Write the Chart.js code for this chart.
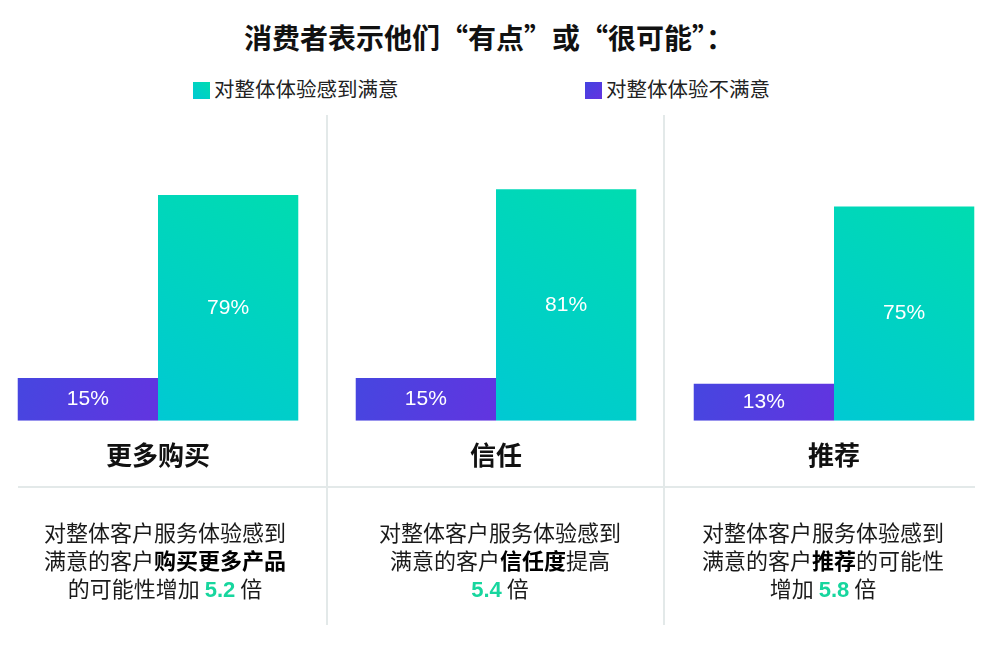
<!DOCTYPE html>
<html><head><meta charset="utf-8">
<script src="https://cdn.jsdelivr.net/npm/chart.js@4.4.0/dist/chart.umd.min.js"></script>
<style>
html,body{margin:0;padding:0;background:#fff;}
body{width:1000px;height:660px;position:relative;overflow:hidden;font-family:"Noto Sans CJK SC","Noto Sans",sans-serif;color:#1a1a1a;}
#title{position:absolute;left:0;width:978px;top:16px;text-align:center;font-size:28px;font-weight:bold;color:#111;line-height:42px;}
.leg{position:absolute;top:76px;font-size:20.5px;line-height:24px;color:#222;white-space:nowrap;}
.leg i{display:inline-block;width:17px;height:17px;vertical-align:-2px;margin-right:4px;}
.vline{position:absolute;width:2px;top:115px;height:510px;background:#e3e9e9;}
.hline{position:absolute;left:18px;width:957px;top:486px;height:2px;background:#e3e9e9;}
.desc{position:absolute;top:517px;width:320px;text-align:center;font-size:22px;line-height:28px;color:#1a1a1a;}
.desc b{font-weight:bold;color:#000;}
.desc .n{font-family:"Liberation Sans",Arial,sans-serif;font-weight:bold;color:#17d69e;}
#wrap{position:absolute;left:-11px;top:0;width:1014px;height:660px;}
</style></head>
<body>
<div id="title">消费者表示他们“有点”或“很可能”：</div>
<div class="leg" style="left:193px"><i style="background:linear-gradient(45deg,#00c9d4,#00dcb0)"></i>对整体体验感到满意</div>
<div class="leg" style="left:585px"><i style="background:linear-gradient(135deg,#4343e0,#6433e0)"></i>对整体体验不满意</div>
<div class="vline" style="left:326px"></div>
<div class="vline" style="left:663px"></div>
<div class="hline"></div>
<div id="wrap"><canvas id="c"></canvas></div>
<div class="desc" style="left:5px">对整体客户服务体验感到<br>满意的客户<b>购买更多产品</b><br>的可能性增加 <span class="n">5.2</span> 倍</div>
<div class="desc" style="left:340px">对整体客户服务体验感到<br>满意的客户<b>信任度</b>提高<br><span class="n">5.4</span> 倍</div>
<div class="desc" style="left:663px">对整体客户服务体验感到<br>满意的客户<b>推荐</b>的可能性<br>增加 <span class="n">5.8</span> 倍</div>
<script>
const categories = ["更多购买", "信任", "推荐"];
const seriesNames = ["对整体体验不满意", "对整体体验感到满意"];
const dissatisfied = [15, 15, 13];
const satisfied = [79, 81, 75];

function grad(ctx, stops, diagDown) {
  const chart = ctx.chart;
  const xs = chart.scales.x, ys = chart.scales.y;
  if (!xs || !ys || ctx.dataIndex === undefined) return stops[0];
  const half = (xs.width / categories.length) * 0.83 / 2;
  const cx = xs.getPixelForValue(ctx.dataIndex);
  const x0 = ctx.datasetIndex === 0 ? cx - half : cx;
  const x1 = x0 + half;
  const top = ys.getPixelForValue(ctx.raw), base = ys.getPixelForValue(0);
  if (![half, cx, x0, x1, top, base].every(Number.isFinite)) return stops[0];
  const g = diagDown
    ? chart.ctx.createLinearGradient(x0, top, x1, base)
    : chart.ctx.createLinearGradient(x0, base, x1, top);
  g.addColorStop(0, stops[0]);
  g.addColorStop(1, stops[1]);
  return g;
}

const valueLabels = {
  id: 'valueLabels',
  afterDatasetsDraw(chart) {
    const c = chart.ctx;
    c.save();
    c.fillStyle = '#ffffff';
    c.font = '21px "Liberation Sans", Arial, sans-serif';
    c.textAlign = 'center';
    c.textBaseline = 'middle';
    chart.data.datasets.forEach((ds, di) => {
      chart.getDatasetMeta(di).data.forEach((el, i) => {
        c.fillText(ds.data[i] + '%', el.x, (el.y + el.base) / 2);
      });
    });
    c.restore();
  }
};

new Chart(document.getElementById('c'), {
  type: 'bar',
  data: {
    labels: categories,
    datasets: [
      { label: seriesNames[0], data: dissatisfied,
        backgroundColor: ctx => grad(ctx, ['#4646e0', '#6234e0'], true) },
      { label: seriesNames[1], data: satisfied,
        backgroundColor: ctx => grad(ctx, ['#00c9d3', '#00dcb0'], false) }
    ]
  },
  options: {
    responsive: true,
    maintainAspectRatio: false,
    animation: false,
    layout: { padding: { top: 135, bottom: 178, left: 0, right: 0 } },
    datasets: { bar: { categoryPercentage: 0.83, barPercentage: 1.0, borderWidth: 0 } },
    plugins: { legend: { display: false }, tooltip: { enabled: false } },
    scales: {
      x: {
        grid: { display: false }, border: { display: false },
        ticks: { padding: 11, color: '#111', font: { family: '"Noto Sans CJK SC", sans-serif', size: 26, weight: 'bold' } }
      },
      y: { display: false, min: 0, max: 100 }
    }
  },
  plugins: [valueLabels]
});
</script>
</body></html>
